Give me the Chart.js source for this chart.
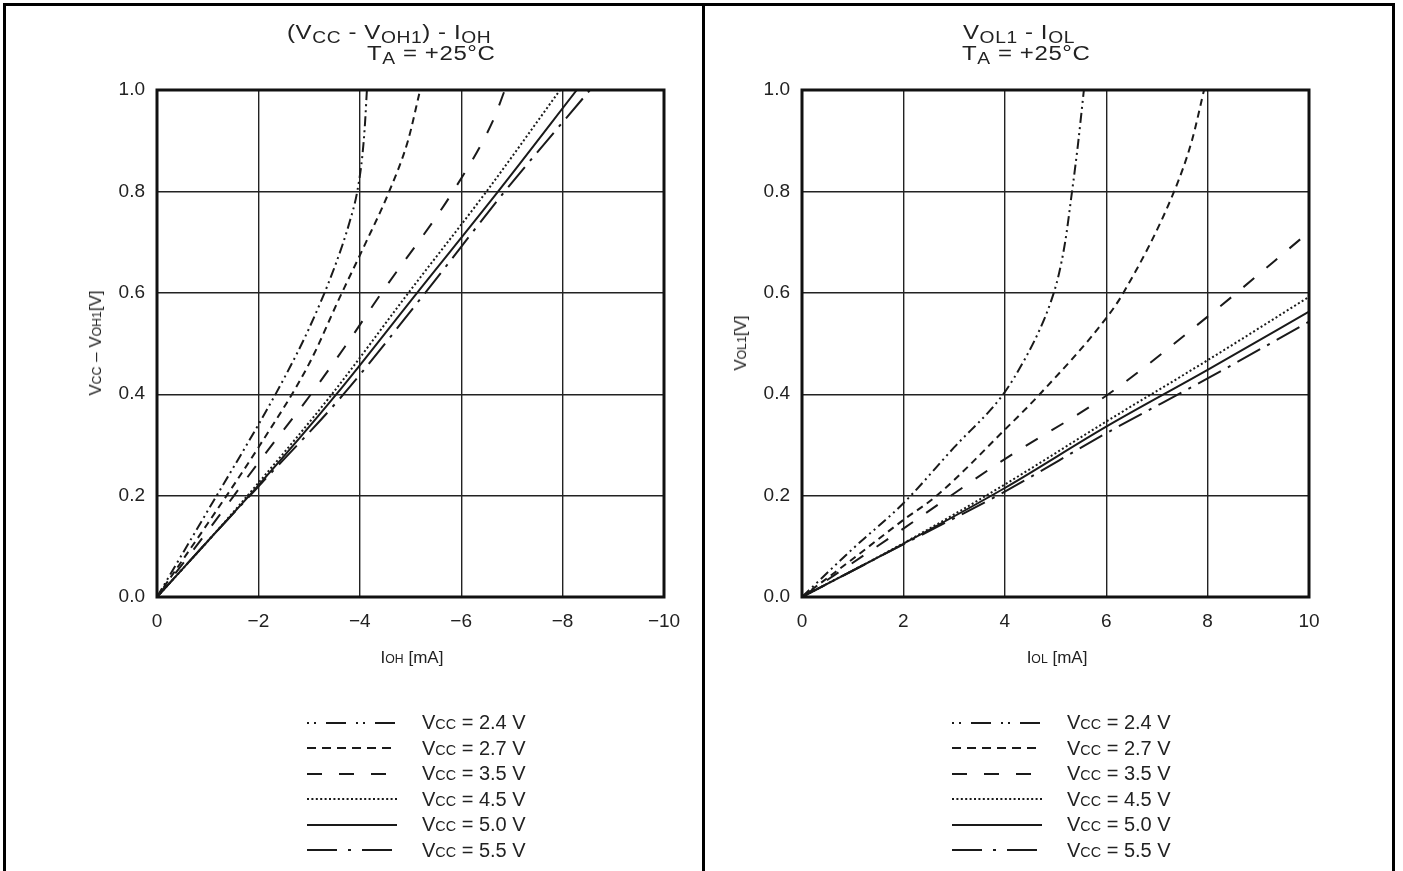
<!DOCTYPE html>
<html>
<head>
<meta charset="utf-8">
<script src="https://cdn.jsdelivr.net/npm/chart.js@4/dist/chart.umd.min.js"></script>
<style>
  html, body { margin: 0; padding: 0; background: #fff; }
  body { width: 1403px; height: 871px; position: relative; overflow: hidden;
         font-family: "Liberation Sans", Arial, Helvetica, sans-serif; color: #222; }
  .frame { position: absolute; left: 3px; top: 3px; width: 1392px; height: 900px;
           border: 3px solid #000; box-sizing: border-box; }
  .divider { position: absolute; left: 702px; top: 3px; width: 3px; height: 900px; background: #000; }
  .cw { position: absolute; top: 0; height: 871px; }
  .tl { position: absolute; font-size: 20px; line-height: 21px; letter-spacing: 0.5px; white-space: nowrap;
        transform: scaleX(1.2); transform-origin: 0 0; }
  .tl sub { font-size: 16px; vertical-align: -4px; line-height: 0; }
  .sc { font-size: 0.72em; }
  .xt { position: absolute; top: 648px; font-size: 17px; white-space: nowrap; transform: translateX(-50%); }
  .yt { position: absolute; font-size: 17px; white-space: nowrap; transform: translate(-50%, -50%) rotate(-90deg); }
  .legend { position: absolute; top: 710px; }
  .row { height: 25.5px; display: flex; align-items: center; font-size: 20px; white-space: nowrap; }
  .row svg { width: 92px; height: 10px; margin-right: 24px; }
</style>
</head>
<body>
<div class="frame"></div>
<div class="divider"></div>

<div class="cw" style="left:0; width:703px;"><canvas id="c1"></canvas></div>
<div class="cw" style="left:703px; width:700px;"><canvas id="c2"></canvas></div>

<div class="tl" style="left:287px; top:22px;">(V<sub>CC</sub> - V<sub>OH1</sub>) - I<sub>OH</sub></div>
<div class="tl" style="left:367px; top:43px;">T<sub>A</sub> = +25°C</div>
<div class="tl" style="left:963px; top:22px;">V<sub>OL1</sub> - I<sub>OL</sub></div>
<div class="tl" style="left:962px; top:43px;">T<sub>A</sub> = +25°C</div>

<div class="xt" style="left:412px;">I<span class="sc">OH</span> [mA]</div>
<div class="xt" style="left:1057px;">I<span class="sc">OL</span> [mA]</div>
<div class="yt" style="left:96px; top:343px;">V<span class="sc">CC</span> – V<span class="sc">OH1</span>[V]</div>
<div class="yt" style="left:741px; top:343px;">V<span class="sc">OL1</span>[V]</div>

<div class="legend" id="lg1" style="left:306px;"></div>
<div class="legend" id="lg2" style="left:951px;"></div>

<script>
// ---------- data ----------
const seriesLabels = ['2.4 V', '2.7 V', '3.5 V', '4.5 V', '5.0 V', '5.5 V'];

// Left chart: (Vcc - Voh1) [V] vs Ioh [mA]
const ioh_24 = [0, -1, -2, -2.5, -3, -3.5, -3.8, -3.95, -4.05, -4.1, -4.14];
const voh_24 = [0, 0.17, 0.34, 0.43, 0.53, 0.65, 0.74, 0.80, 0.87, 0.93, 1.0];
const ioh_27 = [0, -1, -2, -3, -3.6, -4.1, -4.58, -4.95, -5.19];
const voh_27 = [0, 0.145, 0.295, 0.46, 0.59, 0.695, 0.80, 0.90, 1.0];
const ioh_35 = [0, -1, -2, -3, -3.71, -4.43, -5.84, -6.63, -6.86];
const voh_35 = [0, 0.13, 0.265, 0.395, 0.494, 0.60, 0.80, 0.94, 1.0];
const ioh_45 = [0, -1, -2, -3.45, -4.96, -6.50, -7.95];
const voh_45 = [0, 0.11, 0.225, 0.40, 0.60, 0.80, 1.0];
const ioh_50 = [0, -1, -2, -3.54, -5.13, -6.73, -8.28];
const voh_50 = [0, 0.11, 0.22, 0.40, 0.60, 0.80, 1.0];
const ioh_55 = [0, -1, -2, -3.68, -5.29, -6.86, -8.54];
const voh_55 = [0, 0.11, 0.218, 0.40, 0.60, 0.80, 1.0];

// Right chart: Vol1 [V] vs Iol [mA]
const iol_24 = [0, 1, 2, 3, 3.97, 4.4, 4.7, 4.9, 5.05, 5.19, 5.32, 5.44, 5.56];
const vol_24 = [0, 0.095, 0.185, 0.295, 0.40, 0.47, 0.53, 0.58, 0.63, 0.70, 0.795, 0.89, 1.0];
const iol_27 = [0, 1, 2, 2.66, 4, 4.69, 6, 6.34, 7.34, 7.69, 7.93];
const vol_27 = [0, 0.075, 0.152, 0.20, 0.33, 0.40, 0.55, 0.60, 0.80, 0.90, 1.0];
const iol_35 = [0, 2, 4, 6, 8, 10];
const vol_35 = [0, 0.135, 0.272, 0.397, 0.553, 0.72];
const iol_45 = [0, 2, 4, 6, 8, 10];
const vol_45 = [0, 0.106, 0.222, 0.346, 0.467, 0.592];
const iol_50 = [0, 2, 4, 6, 8, 10];
const vol_50 = [0, 0.105, 0.215, 0.336, 0.448, 0.563];
const iol_55 = [0, 2, 4, 6, 8, 10];
const vol_55 = [0, 0.104, 0.208, 0.323, 0.431, 0.543];

const yTicks = [0, 0.2, 0.4, 0.6, 0.8, 1.0];
const xTicksLeft = [0, -2, -4, -6, -8, -10];
const xTicksRight = [0, 2, 4, 6, 8, 10];

// ---------- styles ----------
const plotDash = [[10, 4, 2, 4, 2, 4], [7, 5], [14, 16], [2, 2.4], [], [26, 8, 3, 8]];
const legendDash = ['2 5 2 10 20 10', '9 6', '15 17', '2 2.4', '', '30 11 3 11'];
const lineColor = '#1a1a1a';

function pts(xs, ys) { return xs.map((x, i) => ({ x: x, y: ys[i] })); }

function datasets(pairs) {
  return pairs.map((p, i) => ({
    label: 'Vcc = ' + seriesLabels[i],
    data: pts(p[0], p[1]),
    showLine: true,
    borderColor: lineColor,
    borderWidth: 2,
    borderDash: plotDash[i],
    pointRadius: 0,
    fill: false,
    cubicInterpolationMode: 'monotone'
  }));
}

const frameBox = {
  id: 'frameBox',
  afterDraw(chart) {
    const a = chart.chartArea, ctx = chart.ctx;
    ctx.save();
    ctx.strokeStyle = '#111';
    ctx.lineWidth = 3;
    ctx.strokeRect(a.left, a.top, a.right - a.left, a.bottom - a.top);
    ctx.restore();
  }
};

function makeChart(id, data, xMin, xMax, reverse, xTicks, padL, padR, yW) {
  const font = { family: '"Liberation Sans", Arial, sans-serif', size: 19 };
  return new Chart(document.getElementById(id), {
    type: 'scatter',
    data: { datasets: data },
    options: {
      responsive: true,
      maintainAspectRatio: false,
      animation: false,
      layout: { padding: { left: padL, right: padR, top: 90, bottom: 234 } },
      plugins: { legend: { display: false }, tooltip: { enabled: false } },
      scales: {
        x: {
          type: 'linear', min: xMin, max: xMax, reverse: reverse,
          afterBuildTicks: (s) => { s.ticks = xTicks.map(v => ({ value: v })); },
          afterFit: (s) => { s.height = 40; },
          grid: { color: '#222', lineWidth: 1.4, drawTicks: false },
          border: { display: false },
          ticks: {
            color: '#222', font: font, padding: 13, maxRotation: 0,
            callback: (v) => v < 0 ? '\u2212' + Math.abs(v) : String(v)
          }
        },
        y: {
          type: 'linear', min: 0, max: 1,
          afterBuildTicks: (s) => { s.ticks = yTicks.map(v => ({ value: v })); },
          afterFit: (s) => { s.width = yW; },
          grid: { color: '#222', lineWidth: 1.4, drawTicks: false },
          border: { display: false },
          ticks: { color: '#222', font: font, padding: 12, callback: (v) => Number(v).toFixed(1) }
        }
      }
    },
    plugins: [frameBox]
  });
}

makeChart('c1', datasets([
  [ioh_24, voh_24], [ioh_27, voh_27], [ioh_35, voh_35],
  [ioh_45, voh_45], [ioh_50, voh_50], [ioh_55, voh_55]
]), -10, 0, true, xTicksLeft, 0, 39, 157);

makeChart('c2', datasets([
  [iol_24, vol_24], [iol_27, vol_27], [iol_35, vol_35],
  [iol_45, vol_45], [iol_50, vol_50], [iol_55, vol_55]
]), 0, 10, false, xTicksRight, 0, 94, 99);

// ---------- legends ----------
function buildLegend(id) {
  const el = document.getElementById(id);
  seriesLabels.forEach((lab, i) => {
    const row = document.createElement('div');
    row.className = 'row';
    const dash = legendDash[i] ? ' stroke-dasharray="' + legendDash[i] + '"' : '';
    row.innerHTML = '<svg viewBox="0 0 92 10"><line x1="1" y1="5" x2="91" y2="5" stroke="' + lineColor +
      '" stroke-width="2.2"' + dash + '/></svg><span>V<span class="sc">CC</span> = ' + lab + '</span>';
    el.appendChild(row);
  });
}
buildLegend('lg1');
buildLegend('lg2');
</script>
</body>
</html>
